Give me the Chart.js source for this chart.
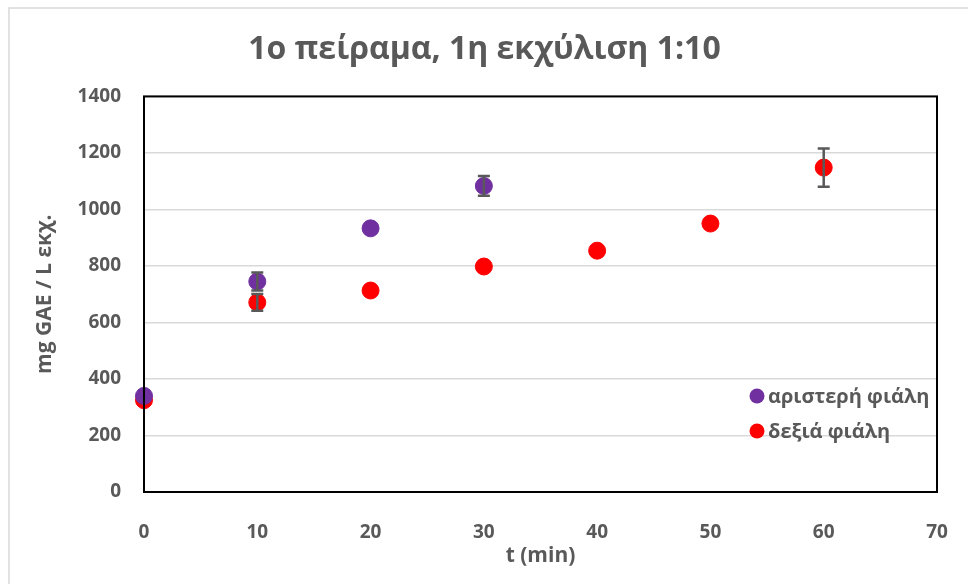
<!DOCTYPE html>
<html>
<head>
<meta charset="utf-8">
<title>1ο πείραμα, 1η εκχύλιση 1:10</title>
<script src="https://cdn.jsdelivr.net/npm/chart.js@4.4.1/dist/chart.umd.min.js"></script>
<style>
    html, body { margin: 0; padding: 0; background: #ffffff; }
    #wrap { position: relative; width: 968px; height: 584px; }
</style>
</head>
<body>
<div id="wrap"><canvas id="extractionChart"></canvas></div>
<script>
// Extraction data: time (min) vs mg GAE / L
const timeLeft = [0, 10, 20, 30];
const valuesLeft = [340, 745, 933, 1083];
const errorsLeft = [0, 32, 0, 35];

const timeRight = [0, 10, 20, 30, 40, 50, 60];
const valuesRight = [325, 671, 713, 798, 854, 950, 1148];
const errorsRight = [0, 30, 0, 0, 0, 0, 68];

const seriesLabels = ['αριστερή φιάλη', 'δεξιά φιάλη'];
const seriesColors = ['#7030a0', '#ff0000'];

const xTicks = [0, 10, 20, 30, 40, 50, 60, 70];
const yTicks = [0, 200, 400, 600, 800, 1000, 1200, 1400];

const textColor = '#595959';
const fontFamily = '"Open Sans", "Noto Sans", sans-serif';

function toPoints(xs, ys, errs) {
    return xs.map((x, i) => ({ x: x, y: ys[i], err: errs[i] }));
}

// Error bars with caps, drawn through the chart scales
const errorBarPlugin = {
    id: 'errorBars',
    afterDatasetsDraw(chart) {
        const ctx = chart.ctx;
        const xs = chart.scales.x;
        const ys = chart.scales.y;
        ctx.save();
        ctx.strokeStyle = '#595959';
        ctx.lineWidth = 2.5;
        chart.data.datasets.forEach(ds => {
            ds.data.forEach(p => {
                if (!p.err) return;
                const px = xs.getPixelForValue(p.x);
                const top = ys.getPixelForValue(p.y + p.err);
                const bot = ys.getPixelForValue(p.y - p.err);
                ctx.beginPath();
                ctx.moveTo(px, top);
                ctx.lineTo(px, bot);
                ctx.moveTo(px - 6, top);
                ctx.lineTo(px + 6, top);
                ctx.moveTo(px - 6, bot);
                ctx.lineTo(px + 6, bot);
                ctx.stroke();
            });
        });
        ctx.restore();
    }
};

// Plot frame, outer chart border and the legend inside the plot area
const framePlugin = {
    id: 'frame',
    beforeDraw(chart) {
        const ctx = chart.ctx;
        ctx.save();
        ctx.strokeStyle = '#d9d9d9';
        ctx.lineWidth = 1.5;
        ctx.beginPath();
        ctx.moveTo(9, chart.height);
        ctx.lineTo(9, 8);
        ctx.lineTo(chart.width, 8);
        ctx.stroke();
        ctx.restore();
    },
    afterDraw(chart) {
        const ctx = chart.ctx;
        const a = chart.chartArea;
        ctx.save();
        ctx.strokeStyle = '#000000';
        ctx.lineWidth = 2;
        ctx.strokeRect(a.left, a.top, a.right - a.left, a.bottom - a.top);

        ctx.font = 'bold 20px ' + fontFamily;
        ctx.textBaseline = 'middle';
        ctx.textAlign = 'left';
        const lx = 757;
        const rows = [396, 431];
        chart.data.datasets.forEach((ds, i) => {
            ctx.fillStyle = ds.backgroundColor;
            ctx.beginPath();
            ctx.arc(lx, rows[i], 7.5, 0, Math.PI * 2);
            ctx.fill();
            ctx.fillStyle = textColor;
            ctx.fillText(ds.label, lx + 11, rows[i] + 1);
        });
        ctx.restore();
    }
};

new Chart(document.getElementById('extractionChart'), {
    type: 'scatter',
    data: {
        datasets: [
            {
                label: seriesLabels[0],
                data: toPoints(timeLeft, valuesLeft, errorsLeft),
                backgroundColor: seriesColors[0],
                borderColor: seriesColors[0],
                pointRadius: 8.5,
                pointHoverRadius: 8.5
            },
            {
                label: seriesLabels[1],
                data: toPoints(timeRight, valuesRight, errorsRight),
                backgroundColor: seriesColors[1],
                borderColor: seriesColors[1],
                pointRadius: 8.5,
                pointHoverRadius: 8.5
            }
        ]
    },
    options: {
        responsive: true,
        maintainAspectRatio: false,
        animation: false,
        clip: false,
        layout: {
            padding: { left: 32, right: 31, top: 0, bottom: 0 }
        },
        plugins: {
            legend: { display: false },
            tooltip: { enabled: false },
            title: {
                display: true,
                text: '1ο πείραμα, 1η εκχύλιση 1:10',
                color: textColor,
                font: { family: fontFamily, size: 32, weight: 'bold', lineHeight: 1.2 },
                padding: { top: 31, bottom: 27 }
            }
        },
        scales: {
            x: {
                type: 'linear',
                min: xTicks[0],
                max: xTicks[xTicks.length - 1],
                afterBuildTicks: scale => {
                    scale.ticks = xTicks.map(v => ({ value: v }));
                },
                afterFit: scale => {
                    scale.height = 92;
                    scale.paddingLeft = 0;
                    scale.paddingRight = 0;
                },
                grid: { display: false, drawTicks: false },
                border: { display: false },
                ticks: {
                    color: textColor,
                    padding: 29,
                    maxRotation: 0,
                    callback: v => String(v),
                    font: { family: fontFamily, size: 19, weight: 'bold' }
                },
                title: {
                    display: true,
                    text: 't (min)',
                    color: textColor,
                    padding: { top: 0, bottom: 15 },
                    font: { family: fontFamily, size: 21, weight: 'bold' }
                }
            },
            y: {
                type: 'linear',
                min: yTicks[0],
                max: yTicks[yTicks.length - 1],
                afterBuildTicks: scale => {
                    scale.ticks = yTicks.map(v => ({ value: v }));
                },
                afterFit: scale => {
                    scale.width = 112;
                    scale.paddingTop = 0;
                    scale.paddingBottom = 0;
                },
                grid: { color: '#d9d9d9', lineWidth: 1.5, drawTicks: false },
                border: { display: false },
                ticks: {
                    color: textColor,
                    padding: 23,
                    callback: v => String(v),
                    font: { family: fontFamily, size: 19, weight: 'bold' }
                },
                title: {
                    display: true,
                    text: 'mg GAE / L εκχ.',
                    color: textColor,
                    padding: { top: 0, bottom: 0 },
                    font: { family: fontFamily, size: 21, weight: 'bold' }
                }
            }
        }
    },
    plugins: [errorBarPlugin, framePlugin]
});
</script>
</body>
</html>
